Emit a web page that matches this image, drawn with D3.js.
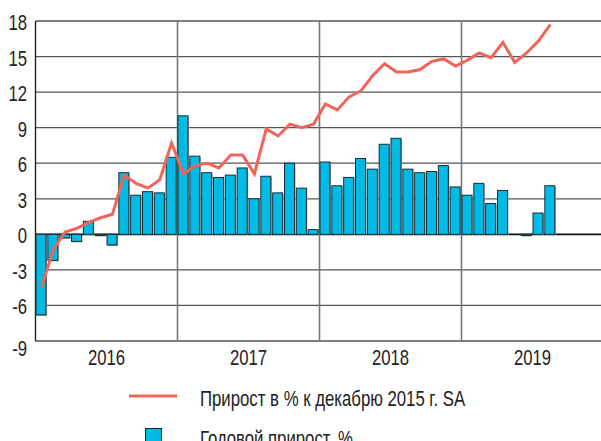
<!DOCTYPE html>
<html>
<head>
<meta charset="utf-8">
<script src="https://cdn.jsdelivr.net/npm/d3@7"></script>
<style>
	body { margin: 0; background: #fff; }
	svg { display: block; }
	text { font-family: "Liberation Sans", Arial, sans-serif; fill: #222; }
</style>
</head>
<body>
<svg width="601" height="441"></svg>
<script>
const years = ["2016", "2017", "2018", "2019"]
const yTicks = [-9, -6, -3, 0, 3, 6, 9, 12, 15, 18]

// годовой прирост, % (месяцы с января 2016)
const annualGrowth = [
	-6.8, -2.2, -0.3, -0.6, 1.1, -0.1, -0.9, 5.2, 3.3, 3.6, 3.5, 6.5,
	10.0, 6.6, 5.2, 4.8, 5.0, 5.6, 3.0, 4.9, 3.5, 6.0, 3.9, 0.4,
	6.1, 4.1, 4.8, 6.4, 5.5, 7.6, 8.1, 5.5, 5.2, 5.3, 5.8, 4.0,
	3.3, 4.3, 2.6, 3.7, null, -0.1, 1.8, 4.1
]

// прирост в % к декабрю 2015 г. SA
const cumGrowth = [
	-4.5, -1.3, 0.2, 0.5, 1.0, 1.4, 1.7, 5.0, 4.3, 3.9, 4.6, 7.7,
	5.1, 5.8, 6.0, 5.6, 6.7, 6.7, 5.1, 8.9, 8.3, 9.3, 9.0, 9.3,
	11.0, 10.5, 11.6, 12.1, 13.4, 14.4, 13.7, 13.7, 13.9, 14.6, 14.8, 14.2,
	14.7, 15.3, 14.9, 16.2, 14.5, 15.3, 16.3, 17.7
]

const legendLabels = ["Прирост в % к декабрю 2015 г. SA", "Годовой прирост, %"]

const narrow = 0.76 // condensed look of the original font
const svg = d3.select("svg")
const plotLeft = 35.5, plotTop = 21, plotBottom = 341
const x = d3.scaleLinear().domain([0, years.length * 12]).range([plotLeft, plotLeft + 142 * years.length])
const y = d3.scaleLinear().domain([-9, 18]).range([plotBottom, plotTop])

// horizontal grid
svg.append("g")
	.selectAll("line")
	.data(yTicks)
	.join("line")
	.attr("x1", plotLeft).attr("x2", 601)
	.attr("y1", d => y(d)).attr("y2", d => y(d))
	.attr("stroke", d => d === 0 ? "#111" : "#555")
	.attr("stroke-width", d => d === 0 ? 1.6 : 1.3)

// year separators
svg.append("g")
	.selectAll("line")
	.data(d3.range(1, years.length))
	.join("line")
	.attr("x1", d => x(d * 12)).attr("x2", d => x(d * 12))
	.attr("y1", plotTop).attr("y2", plotBottom)
	.attr("stroke", "#777")
	.attr("stroke-width", 1.6)

// left axis line
svg.append("line")
	.attr("x1", plotLeft).attr("x2", plotLeft)
	.attr("y1", plotTop).attr("y2", plotBottom)
	.attr("stroke", "#222").attr("stroke-width", 1.4)

// y tick labels (lowest one sits below its line)
svg.append("g")
	.selectAll("text")
	.data(yTicks)
	.join("text")
	.attr("transform", d => `translate(27,${y(d) + 9 + (d === -9 ? 6 : 0)}) scale(${narrow},1)`)
	.attr("text-anchor", "end")
	.attr("font-size", 22)
	.text(d => d)

// year labels
svg.append("g")
	.selectAll("text")
	.data(years)
	.join("text")
	.attr("transform", (d, i) => `translate(${x(i * 12 + 6)},365) scale(${narrow},1)`)
	.attr("text-anchor", "middle")
	.attr("font-size", 22)
	.text(d => d)

// bars
const barData = annualGrowth.map((v, i) => ({ i, v })).filter(d => d.v !== null)
const bars = svg.append("g")
bars.selectAll("rect.shadow")
	.data(barData)
	.join("rect")
	.attr("class", "shadow")
	.attr("x", d => x(d.i) + 1.5)
	.attr("y", d => Math.min(y(d.v), y(0)) + 1)
	.attr("width", 10)
	.attr("height", d => Math.max(1, Math.abs(y(d.v) - y(0))))
	.attr("fill", "#aaa")
bars.selectAll("rect.bar")
	.data(barData)
	.join("rect")
	.attr("class", "bar")
	.attr("x", d => x(d.i) + 0.5)
	.attr("y", d => Math.min(y(d.v), y(0)))
	.attr("width", 10)
	.attr("height", d => Math.max(1, Math.abs(y(d.v) - y(0))))
	.attr("fill", "#00bbe5")
	.attr("stroke", "#1d2b33")
	.attr("stroke-width", 1)

// line
const line = d3.line()
	.x((d, i) => x(i + 0.5))
	.y(d => y(d))
svg.append("path")
	.datum(cumGrowth)
	.attr("fill", "none")
	.attr("stroke", "#f2645a")
	.attr("stroke-width", 3)
	.attr("stroke-linejoin", "miter")
	.attr("d", line)

// legend
const lg = svg.append("g").attr("font-size", 21.5)
lg.append("line")
	.attr("x1", 129).attr("x2", 177)
	.attr("y1", 396).attr("y2", 396)
	.attr("stroke", "#f2645a").attr("stroke-width", 3)
lg.append("text")
	.attr("transform", `translate(200,406) scale(0.78,1)`)
	.text(legendLabels[0])
lg.append("rect")
	.attr("x", 145.5).attr("y", 428.5)
	.attr("width", 16).attr("height", 16)
	.attr("fill", "#00bbe5").attr("stroke", "#1d2b33")
lg.append("text")
	.attr("transform", `translate(200,446) scale(0.78,1)`)
	.text(legendLabels[1])
</script>
</body>
</html>
